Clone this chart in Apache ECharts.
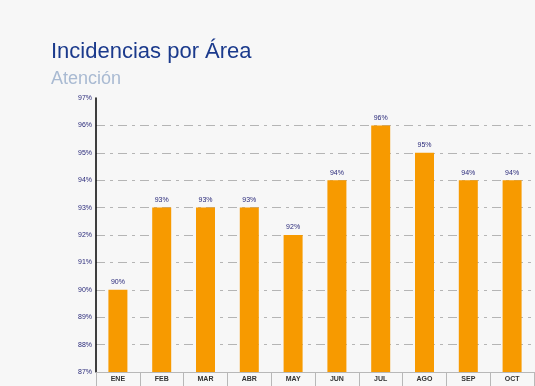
<!DOCTYPE html>
<html><head><meta charset="utf-8">
<script src="https://cdn.jsdelivr.net/npm/echarts@6/dist/echarts.min.js"></script>
<style>html,body{margin:0;padding:0;background:#f7f7f7}#c{width:535px;height:386px}</style>
</head><body><div id="c"></div>
<script>
const categories = ['ENE','FEB','MAR','ABR','MAY','JUN','JUL','AGO','SEP','OCT'];
const values = [90, 93, 93, 93, 92, 94, 96, 95, 94, 94];
const yMin = 87, yMax = 97, yStep = 1;
const titleText = 'Incidencias por Área';
const subtitleText = 'Atención';

const chart = echarts.init(document.getElementById('c'), null, {renderer: 'canvas'});
chart.setOption({
  backgroundColor: '#f7f7f7',
  animation: false,
  title: {
    text: titleText, subtext: subtitleText, left: 51, top: 41, itemGap: 7, padding: 0,
    textStyle: {fontFamily: 'Liberation Sans', fontSize: 22, fontWeight: 'normal', color: '#1b3a8c'},
    subtextStyle: {fontFamily: 'Liberation Sans', fontSize: 18, color: '#a9bad2'}
  },
  grid: {left: 96, right: 1, top: 98, bottom: 14, containLabel: false},
  xAxis: {
    type: 'category', data: categories,
    axisLine: {lineStyle: {color: '#b8b8b8', width: 1}},
    axisTick: {show: true, length: 14, lineStyle: {color: '#b8b8b8'}},
    axisLabel: {fontFamily: 'Liberation Sans', fontSize: 7, fontWeight: 'bold', color: '#333', margin: 4}
  },
  yAxis: {
    type: 'value', min: yMin, max: yMax, interval: yStep,
    axisLine: {show: true, lineStyle: {color: '#000', width: 1.5}},
    axisTick: {show: false},
    axisLabel: {formatter: '{value}%', fontFamily: 'Liberation Sans', fontSize: 7, color: '#2a2a7a', margin: 4},
    splitLine: {showMaxLine: false, showMinLine: false, lineStyle: {color: '#b5b5b5', type: [9, 5, 3, 5], width: 1}}
  },
  series: [{
    type: 'bar', data: values, barWidth: 19,
    itemStyle: {color: '#f79a00'},
    label: {show: true, position: 'top', distance: 4, formatter: '{c}%',
      fontFamily: 'Liberation Sans', fontSize: 7, color: '#2a2a7a'}
  }]
});
</script></body></html>
